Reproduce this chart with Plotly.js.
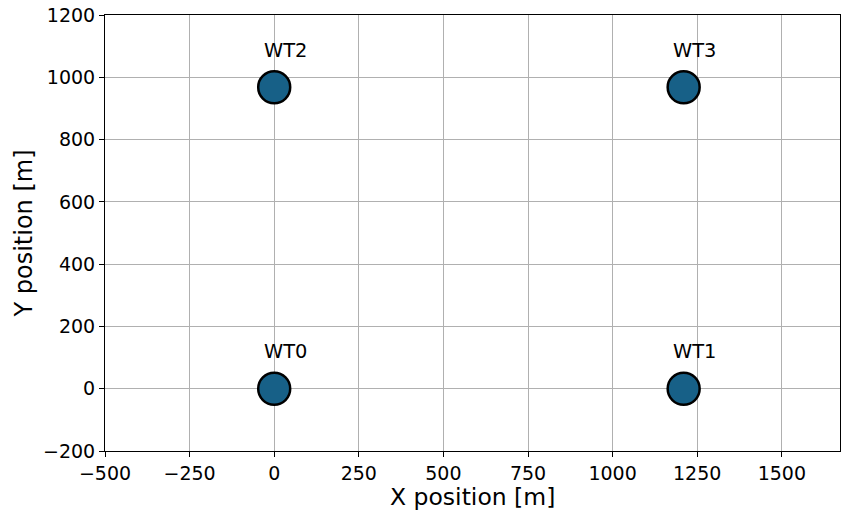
<!DOCTYPE html>
<html>
<head>
<meta charset="utf-8">
<script src="https://cdn.plot.ly/plotly-3.0.1.min.js"></script>
<style>
  html, body { margin: 0; padding: 0; background: #ffffff; }
  #chart { width: 842px; height: 510px; }
</style>
</head>
<body>
<div id="chart"></div>
<script>
// Turbine layout
const turbineNames = ['WT0', 'WT1', 'WT2', 'WT3'];
const turbineX = [0, 1210, 0, 1210];
const turbineY = [0, 0, 968, 968];

const xTicks = [-500, -250, 0, 250, 500, 750, 1000, 1250, 1500];
const yTicks = [-200, 0, 200, 400, 600, 800, 1000, 1200];

const FONT = 'DejaVu Sans, sans-serif';

const trace = {
  type: 'scatter',
  mode: 'markers',
  x: turbineX,
  y: turbineY,
  marker: {
    size: 32,
    color: '#176087',
    line: { color: '#000000', width: 2.5 }
  },
  hoverinfo: 'skip',
  showlegend: false
};

// Name labels sit just above and slightly right of each turbine
const labels = turbineNames.map((name, i) => ({
  x: turbineX[i],
  y: turbineY[i],
  xref: 'x',
  yref: 'y',
  text: name,
  showarrow: false,
  xshift: 11,
  yshift: 37,
  font: { family: FONT, size: 19.4, color: '#000000' }
}));

// X axis title drawn as a paper annotation so it can sit close under the tick labels
labels.push({
  x: 0.5,
  y: 0,
  xref: 'paper',
  yref: 'paper',
  yanchor: 'middle',
  yshift: -46,
  text: 'X position [m]',
  showarrow: false,
  borderpad: 0,
  font: { family: FONT, size: 23.5, color: '#000000' }
});

const axisCommon = {
  showline: true,
  mirror: true,
  linecolor: '#000000',
  linewidth: 1,
  ticks: 'outside',
  ticklen: 5,
  tickwidth: 1,
  tickcolor: '#000000',
  showgrid: true,
  gridcolor: '#b0b0b0',
  gridwidth: 1,
  zeroline: false,
  tickfont: { family: FONT, size: 19, color: '#000000' }
};

const layout = {
  width: 842,
  height: 510,
  margin: { l: 105, r: 2, t: 15, b: 59 },
  paper_bgcolor: '#ffffff',
  plot_bgcolor: '#ffffff',
  xaxis: Object.assign({}, axisCommon, {
    range: [-500, 1672],
    tickmode: 'array',
    tickvals: xTicks,
    ticktext: xTicks.map(v => v < 0 ? '\u2212' + Math.abs(v) : String(v))
  }),
  yaxis: Object.assign({}, axisCommon, {
    range: [-200, 1200],
    tickmode: 'array',
    tickvals: yTicks,
    ticktext: yTicks.map(v => v < 0 ? '\u2212' + Math.abs(v) : String(v)),
    title: { text: 'Y position [m]', font: { family: FONT, size: 24, color: '#000000' }, standoff: 3 }
  }),
  annotations: labels
};

Plotly.newPlot('chart', [trace], layout, { displayModeBar: false, staticPlot: true });
</script>
</body>
</html>
